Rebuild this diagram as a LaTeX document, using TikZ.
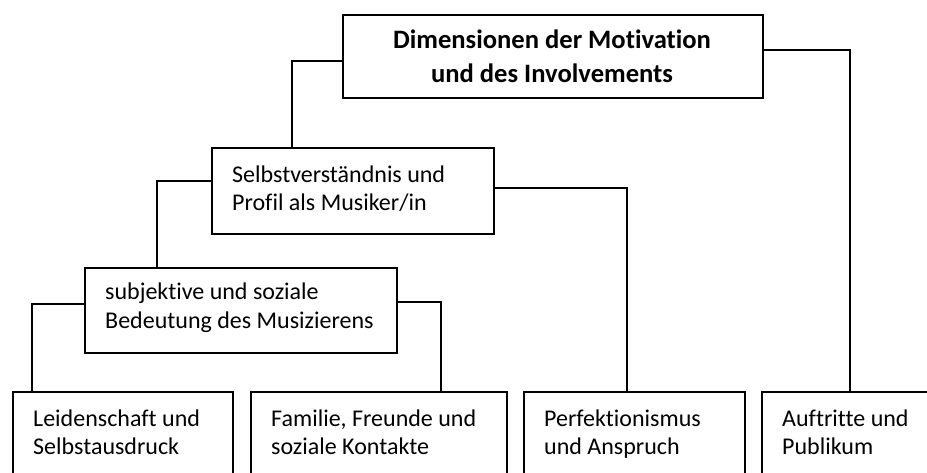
\documentclass[tikz,border=0pt]{standalone}
\usepackage{fontspec}
\setmainfont[RawFeature={-liga;-clig;-dlig}]{Carlito}
\begin{document}
\begin{tikzpicture}[x=1pt,y=-1pt,
  box/.style={draw=black,line width=1.6pt,rectangle,inner sep=0pt,anchor=north west},
  lbl/.style={anchor=base west,inner sep=0pt,font=\fontsize{24}{29}\selectfont},
  ttl/.style={anchor=base,inner sep=0pt,font=\fontsize{26.6}{32}\selectfont\bfseries},
  conn/.style={draw=black,line width=1.6pt}]
\useasboundingbox (0,0) rectangle (927,472);
\clip (0,0) rectangle (927,472);
% boxes
\node[box,minimum width=420pt,minimum height=83pt] (top) at (342,14) {};
\node[box,minimum width=282pt,minimum height=86pt] (sel) at (211,147) {};
\node[box,minimum width=312pt,minimum height=85pt] (sub) at (84,267) {};
\node[box,minimum width=220pt,minimum height=120pt] (b1) at (12,391) {};
\node[box,minimum width=256pt,minimum height=120pt] (b2) at (250,391) {};
\node[box,minimum width=221pt,minimum height=120pt] (b3) at (523,391) {};
\node[box,minimum width=220pt,minimum height=120pt] (b4) at (761,391) {};
% texts
\node[ttl] (t0a) at (552,48) {Dimensionen der Motivation};
\node[ttl] (t0b) at (552,82) {und des Involvements};
\node[lbl] (t1a) at (232,182) {Selbstverständnis und};
\node[lbl] (t1b) at (232,210) {Profil als Musiker/in};
\node[lbl] (t2a) at (105,299) {subjektive und soziale};
\node[lbl] (t2b) at (105,328) {Bedeutung des Musizierens};
\node[lbl] (t3a) at (33,426) {Leidenschaft und};
\node[lbl] (t3b) at (33,454) {Selbstausdruck};
\node[lbl] (t4a) at (271,426) {Familie, Freunde und};
\node[lbl] (t4b) at (271,454) {soziale Kontakte};
\node[lbl] (t5a) at (544,426) {Perfektionismus};
\node[lbl] (t5b) at (544,454) {und Anspruch};
\node[lbl] (t6a) at (782,426) {Auftritte und};
\node[lbl] (t6b) at (782,454) {Publikum};
% connectors
\draw[conn] (top.west |- 0,61) -| (292,0 |- sel.north);
\draw[conn] (top.east |- 0,50) -| (850,0 |- b4.north);
\draw[conn] (sel.west |- 0,181) -| (157,0 |- sub.north);
\draw[conn] (sel.east |- 0,188) -| (627,0 |- b3.north);
\draw[conn] (sub.west |- 0,304) -| (32,0 |- b1.north);
\draw[conn] (sub.east |- 0,302) -| (441,0 |- b2.north);
\end{tikzpicture}
\end{document}
